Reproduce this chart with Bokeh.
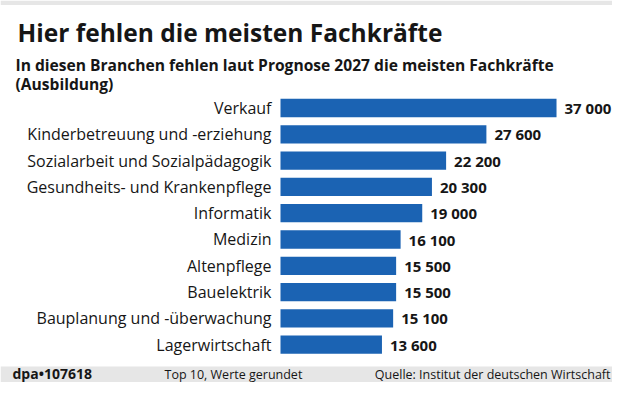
from bokeh.plotting import figure
from bokeh.models import Range1d, ColumnDataSource, BoxAnnotation
from bokeh.embed import file_html
from bokeh.resources import INLINE
from bokeh.core.properties import value

# ---- data ----
categories = [
    "Verkauf",
    "Kinderbetreuung und -erziehung",
    "Sozialarbeit und Sozialpädagogik",
    "Gesundheits- und Krankenpflege",
    "Informatik",
    "Medizin",
    "Altenpflege",
    "Bauelektrik",
    "Bauplanung und -überwachung",
    "Lagerwirtschaft",
]
values = [37000, 27600, 22200, 20300, 19000, 16100, 15500, 15500, 15100, 13600]
value_labels = [f"{v:,}".replace(",", " ") for v in values]

title_text = "Hier fehlen die meisten Fachkräfte"
subtitle_1 = "In diesen Branchen fehlen laut Prognose 2027 die meisten Fachkräfte"
subtitle_2 = "(Ausbildung)"
footer_left = "dpa\u2022107618"
footer_mid = "Top 10, Werte gerundet"
footer_right = "Quelle: Institut der deutschen Wirtschaft"

# ---- layout ----
W, H = 612, 382
PX = 0.00746      # pixels per unit of value
X0 = 280          # pixel position of zero
ROW = 26.3        # pixel pitch of rows
ROW0 = 107.5      # pixel centre of first row
BLUE = "#1b63b3"
GREY = "#e6e6e6"
FONT = "Open Sans"
INK = "#161616"
SHIFT = 0.36      # empirical baseline correction (in em)

x_range = Range1d(-X0 / PX, (W - X0) / PX)
y_range = Range1d(start=(H - ROW0) / ROW, end=-ROW0 / ROW)

p = figure(width=W, height=H, x_range=x_range, y_range=y_range,
           output_backend="svg", toolbar_location=None,
           x_axis_location=None, y_axis_location=None,
           min_border=0, outline_line_color=None)
p.grid.visible = False
p.background_fill_color = "white"
p.border_fill_color = "white"

src = ColumnDataSource(dict(cat=categories, val=values, lab=value_labels,
                            idx=list(range(len(categories)))))

# footer band and thin top band
p.add_layout(BoxAnnotation(bottom=0, top=16, bottom_units="screen", top_units="screen",
                           fill_color=GREY, fill_alpha=1.0, line_alpha=0,
                           level="underlay"))
p.add_layout(BoxAnnotation(bottom=H - 4.5, top=H, bottom_units="screen", top_units="screen",
                           fill_color=GREY, fill_alpha=1.0, line_alpha=0,
                           level="underlay"))

p.hbar(y="idx", left=0, right="val", height=18.3 / ROW, fill_color=BLUE,
       line_color=None, source=src)

p.text(x=0, y="idx", text="cat", source=src, text_align="right",
       text_baseline="alphabetic", x_offset=-9, y_offset=5.7 - SHIFT * 16,
       text_font=value(FONT), text_font_size="16px", text_color=INK)
p.text(x="val", y="idx", text="lab", source=src, text_align="left",
       text_baseline="alphabetic", x_offset=8, y_offset=5.4 - SHIFT * 15,
       text_font=value(FONT), text_font_size="15px", text_font_style="bold",
       text_color=INK)


def lab(txt, px, py, size, bold=False, align="left"):
    # px, py: pixel position (from top-left) of the text's baseline
    py = py - SHIFT * size
    p.text(x=[(px - X0) / PX], y=[(py - ROW0) / ROW], text=[txt],
           text_font=value(FONT), text_font_size=f"{size}px",
           text_font_style="bold" if bold else "normal",
           text_align=align, text_baseline="alphabetic", text_color=INK)


lab(title_text, 17, 41, 24.5, bold=True)
lab(subtitle_1, 15, 70, 15.6, bold=True)
lab(subtitle_2, 15, 89.5, 15.6, bold=True)
lab(footer_left, 12, 378, 14, bold=True)
lab(footer_mid, 164, 378, 12.5)
lab(footer_right, 610, 378, 12.5, align="right")

open("out.html", "w").write(file_html(p, INLINE))
